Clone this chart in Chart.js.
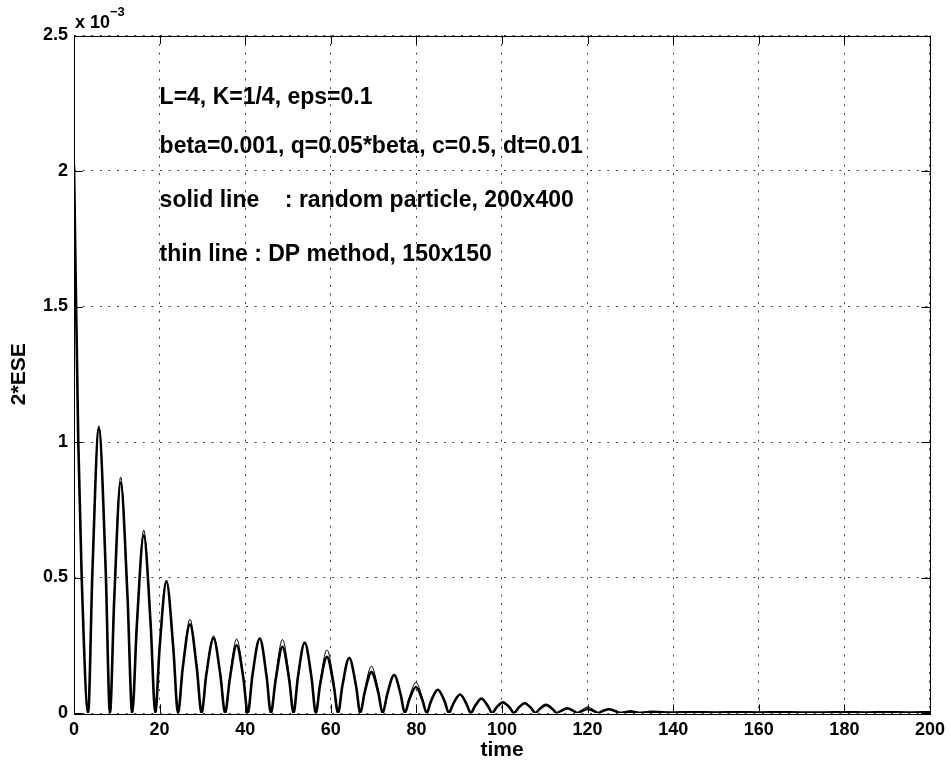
<!DOCTYPE html>
<html><head><meta charset="utf-8">
<script src="https://cdn.jsdelivr.net/npm/chart.js@4/dist/chart.umd.min.js"></script>
<style>html,body{margin:0;padding:0;background:#fff}#c{display:block}</style>
</head><body>
<canvas id="c" width="951" height="773"></canvas>
<script>
// time samples: per oscillation [zero, rising half, peak, falling half]
const times = [0, 1.0, 1.8,
  3.3, 4.3, 5.8, 7.4,
  8.4, 9.4, 10.9, 12.5,
  13.6, 14.7, 16.3, 17.9,
  19.0, 20.0, 21.6, 23.2,
  24.3, 25.4, 27.1, 28.7,
  29.8, 30.9, 32.6, 34.2,
  35.3, 36.4, 38.0, 39.6,
  40.6, 41.7, 43.4, 45.0,
  46.0, 47.1, 48.7, 50.3,
  51.3, 52.3, 53.9, 55.5,
  56.5, 57.5, 59.1, 60.7,
  61.7, 62.7, 64.3, 65.9,
  66.9, 67.9, 69.5, 71.1,
  72.1, 73.2, 74.8, 76.3,
  77.3, 78.3, 79.9, 81.4,
  82.4, 83.4, 85.0, 86.6,
  87.6, 88.6, 90.2, 91.7,
  92.7, 93.7, 95.2, 96.7,
  97.7, 98.7, 100.2, 101.8,
  102.8, 103.8, 105.3, 106.8,
  107.8, 108.8, 110.3, 111.8,
  112.8, 113.8, 115.3, 116.7,
  117.6, 118.6, 120.0, 121.5,
  122.5, 123.5, 125.0, 126.5,
  127.5, 130.0, 132.5, 135.0,
  140, 145, 150, 155, 160, 165, 170, 175, 180, 185, 190, 195, 200];
// solid line: random particle, 200x400  (units of 1e-3)
const randomParticle = [2.02, 1.0, 0.5,
  0, 0.52, 1.05, 0.53,
  0, 0.42, 0.85, 0.43,
  0, 0.33, 0.655, 0.33,
  0, 0.24, 0.485, 0.24,
  0, 0.165, 0.327, 0.165,
  0, 0.14, 0.276, 0.14,
  0, 0.125, 0.250, 0.125,
  0, 0.14, 0.275, 0.135,
  0, 0.12, 0.244, 0.12,
  0, 0.13, 0.259, 0.13,
  0, 0.105, 0.207, 0.10,
  0, 0.10, 0.203, 0.10,
  0, 0.075, 0.151, 0.075,
  0, 0.07, 0.140, 0.07,
  0, 0.048, 0.096, 0.048,
  0, 0.043, 0.086, 0.043,
  0, 0.034, 0.068, 0.034,
  0, 0.026, 0.053, 0.026,
  0, 0.02, 0.039, 0.02,
  0, 0.018, 0.036, 0.018,
  0, 0.015, 0.030, 0.015,
  0, 0.008, 0.017, 0.008,
  0, 0.007, 0.015, 0.007,
  0, 0.007, 0.014, 0.007,
  0.001, 0.005, 0.001, 0.004,
  0.002, 0.003, 0.002, 0.003, 0.002, 0.003, 0.002, 0.002, 0.003, 0.002, 0.003, 0.002, 0.003];
// thin line: DP method, 150x150  (units of 1e-3)
const dpMethod = [2.03, 1.0, 0.5,
  0, 0.53, 1.06, 0.53,
  0, 0.435, 0.87, 0.435,
  0, 0.34, 0.675, 0.34,
  0, 0.245, 0.49, 0.245,
  0, 0.17, 0.346, 0.17,
  0, 0.14, 0.285, 0.14,
  0, 0.135, 0.273, 0.135,
  0, 0.14, 0.276, 0.14,
  0, 0.135, 0.271, 0.135,
  0, 0.13, 0.262, 0.13,
  0, 0.115, 0.233, 0.115,
  0, 0.10, 0.206, 0.10,
  0, 0.085, 0.173, 0.085,
  0, 0.07, 0.142, 0.07,
  0, 0.056, 0.113, 0.056,
  0, 0.043, 0.087, 0.043,
  0, 0.034, 0.069, 0.034,
  0, 0.027, 0.054, 0.027,
  0, 0.021, 0.042, 0.021,
  0, 0.018, 0.037, 0.018,
  0, 0.015, 0.030, 0.015,
  0, 0.009, 0.018, 0.009,
  0, 0.011, 0.022, 0.011,
  0, 0.006, 0.013, 0.006,
  0, 0.008, 0, 0.004,
  0.001, 0.002, 0.001, 0.002, 0.001, 0.001, 0.002, 0.001, 0.001, 0.002, 0.001, 0.001, 0.001];
const xTicks = [0, 20, 40, 60, 80, 100, 120, 140, 160, 180, 200];
const yTicks = [0, 0.5, 1, 1.5, 2, 2.5];
const notes = ["L=4, K=1/4, eps=0.1",
               "beta=0.001, q=0.05*beta, c=0.5, dt=0.01",
               "solid line    : random particle, 200x400",
               "thin line : DP method, 150x150"];
const noteX = 20;
const noteY = [2.27, 2.09, 1.89, 1.69];

const FONT = '"Liberation Sans", Arial, Helvetica, sans-serif';

const overlay = {
  id: 'overlay',
  afterDraw(chart) {
    const {ctx, chartArea: a, scales: {x, y}} = chart;
    ctx.save();
    ctx.strokeStyle = '#000';
    ctx.lineWidth = 1;
    ctx.setLineDash([]);
    const tl = 8.6;
    ctx.beginPath();
    xTicks.forEach(v => {
      const px = Math.round(x.getPixelForValue(v)) + 0.5;
      ctx.moveTo(px, a.bottom); ctx.lineTo(px, a.bottom - tl);
      ctx.moveTo(px, a.top); ctx.lineTo(px, a.top + tl);
    });
    yTicks.forEach(v => {
      const py = Math.round(y.getPixelForValue(v)) + 0.5;
      ctx.moveTo(a.left, py); ctx.lineTo(a.left + tl, py);
      ctx.moveTo(a.right, py); ctx.lineTo(a.right - tl, py);
    });
    ctx.stroke();
    ctx.strokeRect(Math.round(a.left) + 0.5, Math.round(a.top) + 0.5,
                   Math.round(a.right - a.left), Math.round(a.bottom - a.top));
    // annotations
    ctx.fillStyle = '#000';
    ctx.font = 'bold 23px ' + FONT;
    ctx.textAlign = 'left';
    ctx.textBaseline = 'middle';
    notes.forEach((s, i) => {
      ctx.fillText(s, x.getPixelForValue(noteX), y.getPixelForValue(noteY[i]));
    });
    // exponent label
    ctx.font = 'bold 18px ' + FONT;
    ctx.fillText('x 10', a.left + 1, 23);
    ctx.font = 'bold 13px ' + FONT;
    ctx.fillText('\u22123', a.left + 36, 12);
    ctx.restore();
  }
};

new Chart(document.getElementById('c').getContext('2d'), {
  type: 'line',
  data: {
    datasets: [
      { label: 'random particle, 200x400',
        data: times.map((t, i) => ({x: t, y: randomParticle[i]})),
        borderColor: '#000', borderWidth: 2.6, pointRadius: 0,
        cubicInterpolationMode: 'monotone', fill: false },
      { label: 'DP method, 150x150',
        data: times.map((t, i) => ({x: t, y: dpMethod[i]})),
        borderColor: '#000', borderWidth: 1, pointRadius: 0,
        cubicInterpolationMode: 'monotone', fill: false }
    ]
  },
  options: {
    responsive: false, animation: false, devicePixelRatio: 1,
    layout: {padding: {left: 0, right: 17, top: 35.5, bottom: 0}},
    plugins: {legend: {display: false}, tooltip: {enabled: false}},
    scales: {
      x: {
        type: 'linear', min: 0, max: 200,
        afterBuildTicks: s => { s.ticks = xTicks.map(v => ({value: v})); },
        afterFit: s => { s.height = 60; },
        grid: {color: '#444', lineWidth: 1, drawTicks: false},
        border: {display: false, dash: [2, 6.6]},
        ticks: {color: '#000', padding: 6, maxRotation: 0, autoSkip: false,
                callback: v => String(v),
                font: {family: FONT, size: 18, weight: 'bold'}},
        title: {display: true, text: 'time', color: '#000',
                font: {family: FONT, size: 21, weight: 'bold'},
                padding: {top: 0, bottom: 10}}
      },
      y: {
        type: 'linear', min: 0, max: 2.5,
        afterBuildTicks: s => { s.ticks = yTicks.map(v => ({value: v})); },
        afterFit: s => { s.width = 74; },
        grid: {color: '#444', lineWidth: 1, drawTicks: false},
        border: {display: false, dash: [2, 6.6]},
        ticks: {color: '#000', padding: 6,
                callback: v => String(v),
                font: {family: FONT, size: 18, weight: 'bold'}},
        title: {display: true, text: '2*ESE', color: '#000',
                font: {family: FONT, size: 21, weight: 'bold'},
                padding: {top: 7, bottom: 0}}
      }
    }
  },
  plugins: [overlay]
});
</script>
</body></html>
